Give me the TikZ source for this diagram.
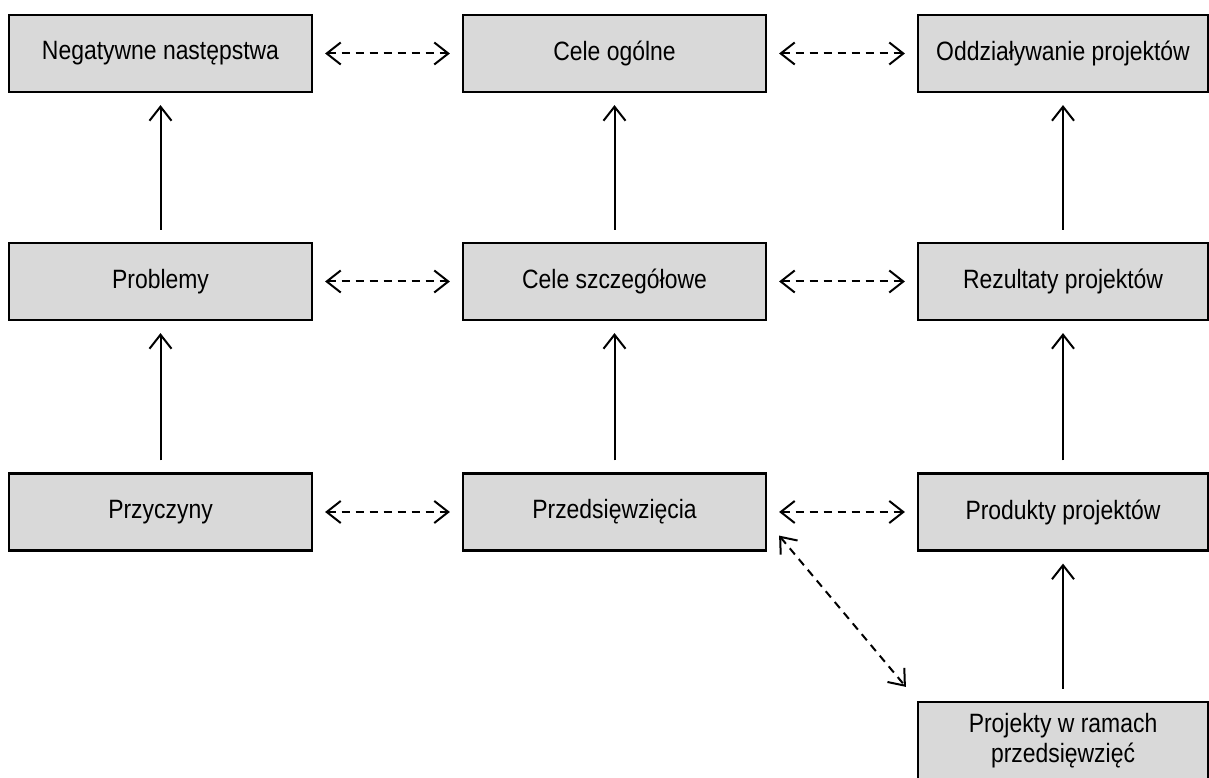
\documentclass[tikz,border=0pt]{standalone}
\usepackage{fontspec}
\setmainfont{Liberation Sans}[FakeStretch=0.865]
\usetikzlibrary{arrows.meta,calc}
\begin{document}
\begin{tikzpicture}[x=1pt,y=1pt,
  box/.style={draw,line width=2.2pt,fill=black!15,minimum width=303pt,minimum height=77pt,inner sep=0pt,align=center,font=\fontsize{26.5}{30}\selectfont},
  narrowbox/.style={box,minimum width=290pt},
  up/.style={-{Straight Barb[length=14pt,width=22pt]},line width=2pt,shorten >=12pt,shorten <=12pt},
  both/.style={{Straight Barb[length=14pt,width=22pt]}-{Straight Barb[length=14pt,width=22pt]},line width=2pt,dash pattern=on 8pt off 6pt,shorten >=12pt,shorten <=12pt}]
\useasboundingbox (0,0) rectangle (1209,778);
% column 1
\node[box] (neg) at (160.5,724.5) {Negatywne następstwa};
\node[box] (prob) at (160.5,496.5) {Problemy};
\node[box] (przy) at (160.5,266) {Przyczyny};
% column 2
\node[box] (cog) at (614.5,724.5) {Cele ogólne};
\node[box] (csz) at (614.5,496.5) {Cele szczegółowe};
\node[box] (prz) at (614.5,266) {Przedsięwzięcia};
% column 3
\node[narrowbox] (odd) at (1063,724.5) {Oddziaływanie projektów};
\node[narrowbox] (rez) at (1063,496.5) {Rezultaty projektów};
\node[narrowbox] (prod) at (1063,266) {Produkty projektów};
\node[narrowbox] (proj) at (1063,37.5) {Projekty w ramach\\przedsięwzięć};
% solid arrows
\draw[up] (prob) -- (neg);
\draw[up] (przy) -- (prob);
\draw[up] (csz) -- (cog);
\draw[up] (prz) -- (csz);
\draw[up] (rez) -- (odd);
\draw[up] (prod) -- (rez);
\draw[up] (proj) -- (prod);
% dashed arrows
\draw[both] (neg) -- (cog);
\draw[both] (cog) -- (odd);
\draw[both] (prob) -- (csz);
\draw[both] (csz) -- (rez);
\draw[both] (przy) -- (prz);
\draw[both] (prz) -- (prod);
\coordinate (d1) at ($(prz.south east)+(12,16)$);
\coordinate (d2) at ($(proj.north west)+(-11,14)$);
\draw[both,shorten >=0pt,shorten <=0pt] (d1) -- (d2);
\end{tikzpicture}
\end{document}
